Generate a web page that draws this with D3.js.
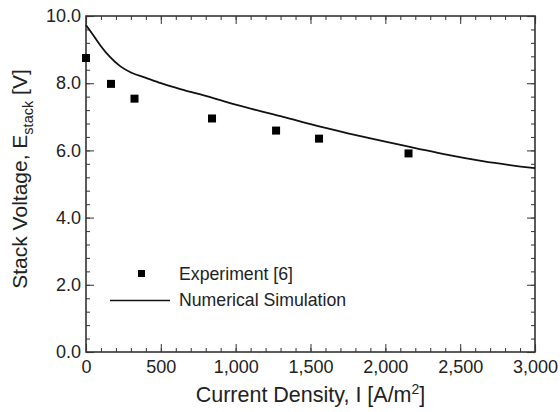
<!DOCTYPE html>
<html>
<head>
<meta charset="utf-8">
<script src="https://cdn.jsdelivr.net/npm/d3@7"></script>
<style>
	body { margin: 0; background: #fff; }
	text { font-family: "Liberation Sans", Arial, sans-serif; fill: #222; }
</style>
</head>
<body>
<svg id="chart"></svg>
<script>
// measured points
const expCurrent = [0, 167, 324, 842, 1270, 1557, 2155];
const expVoltage = [8.75, 7.98, 7.54, 6.95, 6.59, 6.35, 5.91];

// simulation curve
const simCurrent = [0, 50, 100, 160, 230, 300, 400, 500, 650, 800, 1000, 1300, 1500, 1750, 2000, 2200, 2400, 2650, 3000];
const simVoltage = [9.73, 9.42, 9.10, 8.78, 8.50, 8.32, 8.16, 8.00, 7.80, 7.62, 7.36, 7.02, 6.78, 6.51, 6.26, 6.07, 5.88, 5.68, 5.47];

const xTicks = [0, 500, 1000, 1500, 2000, 2500, 3000];
const yTicks = [0, 2, 4, 6, 8, 10];
const legendLabels = ["Experiment [6]", "Numerical Simulation"];

const width = 560, height = 412;
const margin = {top: 16, right: 25, bottom: 60, left: 86};
const innerWidth = width - margin.left - margin.right;
const innerHeight = height - margin.top - margin.bottom;

const svg = d3.select("#chart").attr("width", width).attr("height", height);
const g = svg.append("g").attr("transform", `translate(${margin.left},${margin.top})`);

const x = d3.scaleLinear().domain([0, 3000]).range([0, innerWidth]);
const y = d3.scaleLinear().domain([0, 10]).range([innerHeight, 0]);

const axisColor = "#444";

const xMinor = d3.range(0, 3001, 100);
const yMinor = d3.range(0, 10.01, 0.4);

// inward ticks on all four sides, minor and major
function tickAxis(axisFn, scale, values, size) {
	return axisFn(scale).tickValues(values).tickSize(-size).tickFormat(() => "");
}

const frame = g.append("g").attr("class", "frame");
frame.append("g").attr("transform", `translate(0,${innerHeight})`).call(tickAxis(d3.axisBottom, x, xMinor, 4));
frame.append("g").attr("transform", `translate(0,${innerHeight})`).call(tickAxis(d3.axisBottom, x, xTicks, 8));
frame.append("g").call(tickAxis(d3.axisTop, x, xMinor, 4));
frame.append("g").call(tickAxis(d3.axisTop, x, xTicks, 8));
frame.append("g").call(tickAxis(d3.axisLeft, y, yMinor, 4));
frame.append("g").call(tickAxis(d3.axisLeft, y, yTicks, 8));
frame.append("g").attr("transform", `translate(${innerWidth},0)`).call(tickAxis(d3.axisRight, y, yMinor, 4));
frame.append("g").attr("transform", `translate(${innerWidth},0)`).call(tickAxis(d3.axisRight, y, yTicks, 8));
frame.selectAll(".domain").remove();
frame.selectAll(".tick text").remove();
frame.selectAll(".tick line").attr("stroke", axisColor).attr("stroke-width", 1.1);

// tick labels
const xLab = g.append("g").attr("transform", `translate(0,${innerHeight})`)
	.call(d3.axisBottom(x).tickValues(xTicks).tickSize(0).tickPadding(8).tickFormat(d3.format(",")));
const yLab = g.append("g")
	.call(d3.axisLeft(y).tickValues(yTicks).tickSize(0).tickPadding(5).tickFormat(d3.format(".1f")));
xLab.select(".domain").remove();
yLab.select(".domain").remove();
g.selectAll(".tick text").style("font-size", "18px").attr("fill", "#222");

g.append("rect")
	.attr("width", innerWidth).attr("height", innerHeight)
	.attr("fill", "none").attr("stroke", "#333").attr("stroke-width", 1.6);

// simulation line
const simData = simCurrent.map((c, i) => ({c, v: simVoltage[i]}));
const line = d3.line().x(d => x(d.c)).y(d => y(d.v)).curve(d3.curveMonotoneX);
g.append("path").datum(simData)
	.attr("fill", "none").attr("stroke", "#111").attr("stroke-width", 1.8)
	.attr("d", line);

// experiment squares
const sq = 8;
g.selectAll("rect.pt")
	.data(expCurrent.map((c, i) => ({c, v: expVoltage[i]})))
	.enter().append("rect").attr("class", "pt")
	.attr("x", d => x(d.c) - sq / 2).attr("y", d => y(d.v) - sq / 2)
	.attr("width", sq).attr("height", sq).attr("fill", "#000");

// legend
const lg = svg.append("g");
lg.append("rect").attr("x", 138).attr("y", 270).attr("width", 7).attr("height", 7).attr("fill", "#000");
lg.append("line").attr("x1", 110).attr("x2", 170).attr("y1", 300.5).attr("y2", 300.5)
	.attr("stroke", "#111").attr("stroke-width", 1.5);
lg.append("text").attr("x", 179).attr("y", 280).style("font-size", "17.7px").text(legendLabels[0]);
lg.append("text").attr("x", 179).attr("y", 306).style("font-size", "17.7px").text(legendLabels[1]);

// axis titles
svg.append("text")
	.attr("x", margin.left + innerWidth / 2).attr("y", 402)
	.attr("text-anchor", "middle").style("font-size", "21.5px")
	.html('Current Density, I [A/m<tspan dy="-8" font-size="14px">2</tspan><tspan dy="8">]</tspan>');

svg.append("text")
	.attr("transform", `translate(27,179) rotate(-90)`)
	.attr("text-anchor", "middle").style("font-size", "21px")
	.html('Stack Voltage, E<tspan dy="6" font-size="14.5px">stack</tspan><tspan dy="-6"> [V]</tspan>');
</script>
</body>
</html>
